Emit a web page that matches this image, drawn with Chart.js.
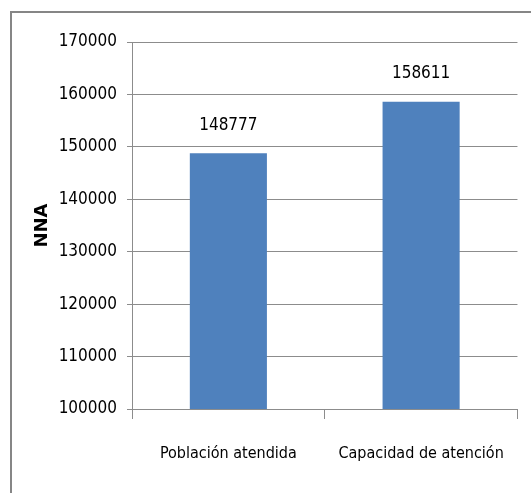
<!DOCTYPE html>
<html>
<head>
<meta charset="utf-8">
<script src="https://cdn.jsdelivr.net/npm/chart.js@4"></script>
<style>
  html, body { margin: 0; padding: 0; background: #fff; overflow: hidden; }
  #wrap { width: 531px; height: 493px; }
</style>
</head>
<body>
<div id="wrap"><canvas id="nnaChart" width="531" height="493"></canvas></div>
<script>
// Data
const categories = ['Población atendida', 'Capacidad de atención'];
const nnaValues = [148777, 158611];
const yTicks = [100000, 110000, 120000, 130000, 140000, 150000, 160000, 170000];

const narrowFont = "'DejaVu Sans Condensed', 'DejaVu Sans', sans-serif";
const gridGray = '#8c8c8c';

// Outer frame (only top and left edges show)
const framePlugin = {
    id: 'frame',
    beforeDraw(chart) {
        const ctx = chart.ctx;
        ctx.save();
        ctx.strokeStyle = '#868686';
        ctx.lineWidth = 2;
        ctx.strokeRect(11, 12, 700, 700);
        ctx.restore();
    }
};

// Value labels above the bars
const valueLabels = {
    id: 'valueLabels',
    afterDatasetsDraw(chart) {
        const ctx = chart.ctx;
        const meta = chart.getDatasetMeta(0);
        ctx.save();
        ctx.font = '17px ' + narrowFont;
        ctx.fillStyle = '#000';
        ctx.textAlign = 'center';
        ctx.textBaseline = 'middle';
        meta.data.forEach((bar, i) => {
            ctx.fillText(String(nnaValues[i]), bar.x, bar.y - 28);
        });
        ctx.restore();
    }
};

const ctx = document.getElementById('nnaChart').getContext('2d');
new Chart(ctx, {
    type: 'bar',
    data: {
        labels: categories,
        datasets: [{
            data: nnaValues,
            backgroundColor: '#4f81bd',
            borderWidth: 0,
            barPercentage: 0.4,
            categoryPercentage: 1
        }]
    },
    options: {
        responsive: false,
        animation: false,
        layout: { padding: { left: 0, top: 42, right: 9, bottom: 0 } },
        plugins: {
            legend: { display: false },
            tooltip: { enabled: false }
        },
        scales: {
            x: {
                grid: {
                    offset: true,
                    drawOnChartArea: false,
                    drawTicks: true,
                    tickLength: 10,
                    color: gridGray
                },
                border: { display: true, color: gridGray },
                ticks: {
                    color: '#000',
                    padding: 25,
                    maxRotation: 0,
                    minRotation: 0,
                    autoSkip: false,
                    font: { family: narrowFont, size: 16 }
                },
                afterFit(scale) { scale.height = 84; }
            },
            y: {
                min: 100000,
                max: 170000,
                afterBuildTicks(scale) {
                    scale.ticks = yTicks.map(v => ({ value: v }));
                },
                grid: {
                    color: gridGray,
                    tickLength: 5
                },
                border: { display: true, color: gridGray },
                ticks: {
                    color: '#000',
                    padding: 10,
                    font: { family: narrowFont, size: 17 },
                    callback: v => String(v)
                },
                title: {
                    display: true,
                    text: 'NNA',
                    color: '#000',
                    font: { family: "'DejaVu Sans', sans-serif", size: 18, weight: 'bold' },
                    padding: { top: 32, bottom: 0 }
                },
                afterFit(scale) { scale.width = 132; }
            }
        }
    },
    plugins: [framePlugin, valueLabels]
});
</script>
</body>
</html>
